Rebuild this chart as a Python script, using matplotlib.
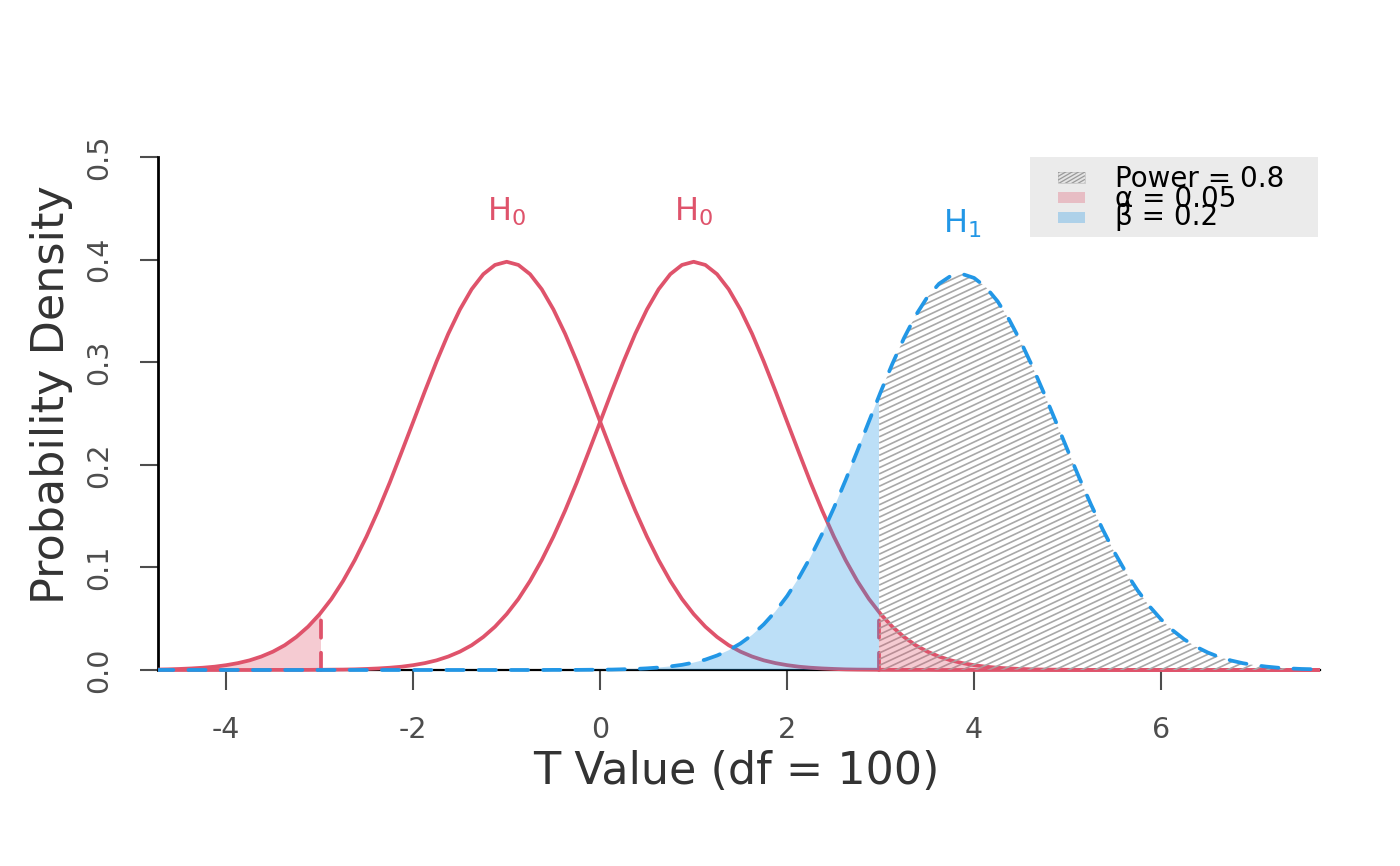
import numpy as np
import matplotlib
matplotlib.use("Agg")
import matplotlib.pyplot as plt
from matplotlib.patches import Rectangle, Polygon
from matplotlib.collections import LineCollection
from matplotlib.transforms import IdentityTransform

plt.rcParams['font.family'] = ['DejaVu Sans']
plt.rcParams['axes.unicode_minus'] = False

# ---------------- data ----------------
df = 100
t_grid = np.linspace(-4.75, 7.75, 101)          # evaluation grid, step 0.125

h0_left = ([0.0004, 0.0006, 0.0010, 0.0015, 0.0022, 0.0032, 0.0047, 0.0067, 0.0094, 0.0131,
            0.0179, 0.0241, 0.0322, 0.0422, 0.0545, 0.0692, 0.0868, 0.1071, 0.1300, 0.1554,
            0.1829, 0.2122, 0.2419, 0.2718, 0.3007, 0.3277, 0.3514, 0.3711, 0.3858, 0.3948,
            0.3979,
            0.3948, 0.3858, 0.3711, 0.3514, 0.3277, 0.3007, 0.2718, 0.2419, 0.2122, 0.1829,
            0.1554, 0.1300, 0.1071, 0.0868, 0.0692, 0.0545, 0.0422, 0.0322, 0.0241, 0.0179,
            0.0131, 0.0094, 0.0067, 0.0047, 0.0032, 0.0022, 0.0015, 0.0010, 0.0006, 0.0004,
            0.0003, 0.0002, 0.0001, 0.0001, 0.0001, 0.0001] + [0.0] * 34)

h0_right = ([0.0] * 10 + [0.0001, 0.0001, 0.0001, 0.0001, 0.0002, 0.0003,
            0.0004, 0.0006, 0.0010, 0.0015, 0.0022, 0.0032, 0.0047, 0.0067, 0.0094, 0.0131,
            0.0179, 0.0241, 0.0322, 0.0422, 0.0545, 0.0692, 0.0868, 0.1071, 0.1300, 0.1554,
            0.1829, 0.2122, 0.2419, 0.2718, 0.3007, 0.3277, 0.3514, 0.3711, 0.3858, 0.3948,
            0.3979,
            0.3948, 0.3858, 0.3711, 0.3514, 0.3277, 0.3007, 0.2718, 0.2419, 0.2122, 0.1829,
            0.1554, 0.1300, 0.1071, 0.0868, 0.0692, 0.0545, 0.0422, 0.0322, 0.0241, 0.0179,
            0.0131, 0.0094, 0.0067, 0.0047, 0.0032, 0.0022, 0.0015, 0.0010, 0.0006, 0.0004,
            0.0003, 0.0002, 0.0001, 0.0001, 0.0001, 0.0001] + [0.0] * 18)

h1 = ([0.0] * 34 + [0.0001, 0.0001, 0.0001, 0.0002, 0.0003, 0.0004, 0.0007, 0.0010, 0.0016,
      0.0024, 0.0035, 0.0050, 0.0072, 0.0101, 0.0141, 0.0192, 0.0258, 0.0341, 0.0445, 0.0571,
      0.0721, 0.0898, 0.1101, 0.1329, 0.1580, 0.1850, 0.2133, 0.2423, 0.2709, 0.2983, 0.3235,
      0.3456, 0.3635, 0.3765, 0.3841, 0.3859,
      0.3821, 0.3732, 0.3595, 0.3415, 0.3198, 0.2955, 0.2692, 0.2419, 0.2143, 0.1872, 0.1613,
      0.1371, 0.1149, 0.0950, 0.0774, 0.0622, 0.0493, 0.0386, 0.0297, 0.0226, 0.0170, 0.0125,
      0.0092, 0.0066, 0.0047, 0.0033, 0.0022, 0.0015, 0.0010, 0.0007, 0.0004])

crit_value = 2.984
crit_density = 0.0555
power_value = 0.8
alpha_value = 0.05
beta_value = 0.2

x_ticks = [-4, -2, 0, 2, 4, 6]
x_tick_labels = ["-4", "-2", "0", "2", "4", "6"]
y_ticks = [0.0, 0.1, 0.2, 0.3, 0.4, 0.5]
y_tick_labels = ["0.0", "0.1", "0.2", "0.3", "0.4", "0.5"]

# ---------------- style ----------------
RED = "#DF536B"
BLUE = "#2297E6"
HATCH = "#A8A8A8"
W, H = 1400, 866

fig = plt.figure(figsize=(W / 100, H / 100), dpi=100)
ax = fig.add_axes([158 / W, (H - 690.5) / H, (1320 - 158) / W, (690.5 - 136.5) / H])
ax.set_xlim(-4.73, 7.70)
ax.set_ylim(-0.02, 0.52)

x = np.asarray(t_grid)
y0l = np.asarray(h0_left)
y0r = np.asarray(h0_right)
y1 = np.asarray(h1)

# curves
ax.plot(x, y0l, color=RED, lw=2.7, zorder=3, solid_joinstyle='round')
ax.plot(x, y0r, color=RED, lw=2.7, zorder=3, solid_joinstyle='round')
dash = (0, (4.6, 4.0))
ax.vlines([-crit_value, crit_value], 0, crit_density, colors=RED, lw=2.7,
          linestyles=[dash], zorder=3.1, capstyle='round')
ax.plot(x, y1, color=BLUE, lw=2.7, linestyle=dash, dash_capstyle='round', zorder=6)

def rect_clip(x0, x1):
    return Rectangle((x0, -1), x1 - x0, 2, transform=ax.transData)

# beta region
fb = ax.fill_between(x, 0, y1, facecolor=BLUE, alpha=0.3, edgecolor='none', zorder=4)
fb.set_clip_path(rect_clip(-10, crit_value))

# alpha regions
fa1 = ax.fill_between(x, 0, y0l, facecolor=RED, alpha=0.3, edgecolor='none', zorder=5)
fa1.set_clip_path(rect_clip(-10, -crit_value))
fa2 = ax.fill_between(x, 0, y0r, facecolor=RED, alpha=0.3, edgecolor='none', zorder=5)
fa2.set_clip_path(rect_clip(crit_value, 20))

# power region: hatch lines clipped to H1 polygon
def hatch_lines(x0, x1, yb, yt, angle, spacing):
    th = np.deg2rad(angle)
    k = np.tan(th)
    dc = spacing / np.cos(th)
    cs = np.arange(yb - k * x1, yt - k * x0 + dc, dc)
    return [[(x0, k * x0 + c), (x1, k * x1 + c)] for c in cs]

poly_pts = np.vstack([np.column_stack([x, y1]), [[x[-1], 0], [x[0], 0]]])
h1_poly = Polygon(poly_pts, closed=True, transform=ax.transData)
px0, py0 = ax.transData.transform((crit_value, 0))
px1, py1 = ax.transData.transform((7.70, max(h1) + 0.01))
segs = hatch_lines(px0, px1, py0, py1, 25, 5.6)
lc = LineCollection(segs, colors=HATCH, linewidths=1.2, transform=IdentityTransform(), zorder=4.5)
ax.add_collection(lc, autolim=False)
lc.set_clip_path(h1_poly)

# axes styling
for s in ['top', 'right']:
    ax.spines[s].set_visible(False)
ax.spines['bottom'].set_position(('data', 0))
ax.spines['bottom'].set_linewidth(1.6)
ax.spines['bottom'].set_color('black')
ax.spines['left'].set_bounds(0, 0.5)
ax.spines['left'].set_linewidth(2.0)
ax.spines['left'].set_color('black')

ax.set_xticks(x_ticks)
ax.set_xticklabels(x_tick_labels)
ax.set_yticks(y_ticks)
ax.set_yticklabels(y_tick_labels)
ax.tick_params(axis='x', length=14.4, width=1.5, color='#4D4D4D', labelsize=20.5,
               labelcolor='#4D4D4D', pad=19)
ax.tick_params(axis='y', length=13, width=1.5, color='#4D4D4D', labelsize=20.5,
               labelcolor='#4D4D4D', pad=19, labelrotation=90)
for lab in ax.get_yticklabels():
    lab.set_verticalalignment('center')

# axis titles
fig.text(736 / W, (H - 784) / H, "T Value (df = 100)", fontsize=32, color='#333333',
         ha='center', va='baseline')
fig.text(64 / W, (H - 395) / H, "Probability Density", fontsize=32, color='#333333',
         ha='center', va='baseline', rotation=90, rotation_mode='anchor')

# curve labels
for curve, lab, col in [(y0l, r"$\mathrm{H}_0$", RED), (y0r, r"$\mathrm{H}_0$", RED),
                        (y1, r"$\mathrm{H}_1$", BLUE)]:
    im = int(np.argmax(curve))
    ax.text(x[im], curve[im] + 0.04, lab, color=col, fontsize=23, ha='center', va='baseline',
            zorder=7)

# legend (drawn in pixel coordinates)
def D(px, py):
    return (px, H - py)

leg_bg = Rectangle(D(1030, 237), 288, 80, transform=IdentityTransform(),
                   facecolor='#EBEBEB', edgecolor='none', zorder=8)
fig.add_artist(leg_bg)
patch_specs = [(172, None), (192, RED), (212, BLUE)]
for ytop, col in patch_specs:
    if col is None:
        p = Rectangle(D(1058, ytop + 11), 27, 11, transform=IdentityTransform(),
                      facecolor='#E4E4E4', edgecolor='#C8C8C8', lw=0.6, zorder=9)
        fig.add_artist(p)
        bx0, by0 = D(1058, ytop + 11)
        lseg = hatch_lines(bx0, bx0 + 27, by0, by0 + 11, 30, 3.2)
        lc2 = LineCollection(lseg, colors='#9A9A9A', linewidths=0.9,
                             transform=IdentityTransform(), zorder=9.5)
        fig.add_artist(lc2)
        lc2.set_clip_path(p)
    else:
        p = Rectangle(D(1058, ytop + 11), 27, 11, transform=IdentityTransform(),
                      facecolor=col, alpha=0.3, edgecolor='none', zorder=9)
        fig.add_artist(p)

legend_texts = [f"Power = {power_value:g}", f"α = {alpha_value:g}", f"β = {beta_value:g}"]
for txt, yb in zip(legend_texts, [187, 207, 225]):
    fig.text(1115 / W, (H - yb) / H, txt, fontsize=20, color='black', ha='left',
             va='baseline', zorder=10)

fig.savefig("out.png", dpi=100)
